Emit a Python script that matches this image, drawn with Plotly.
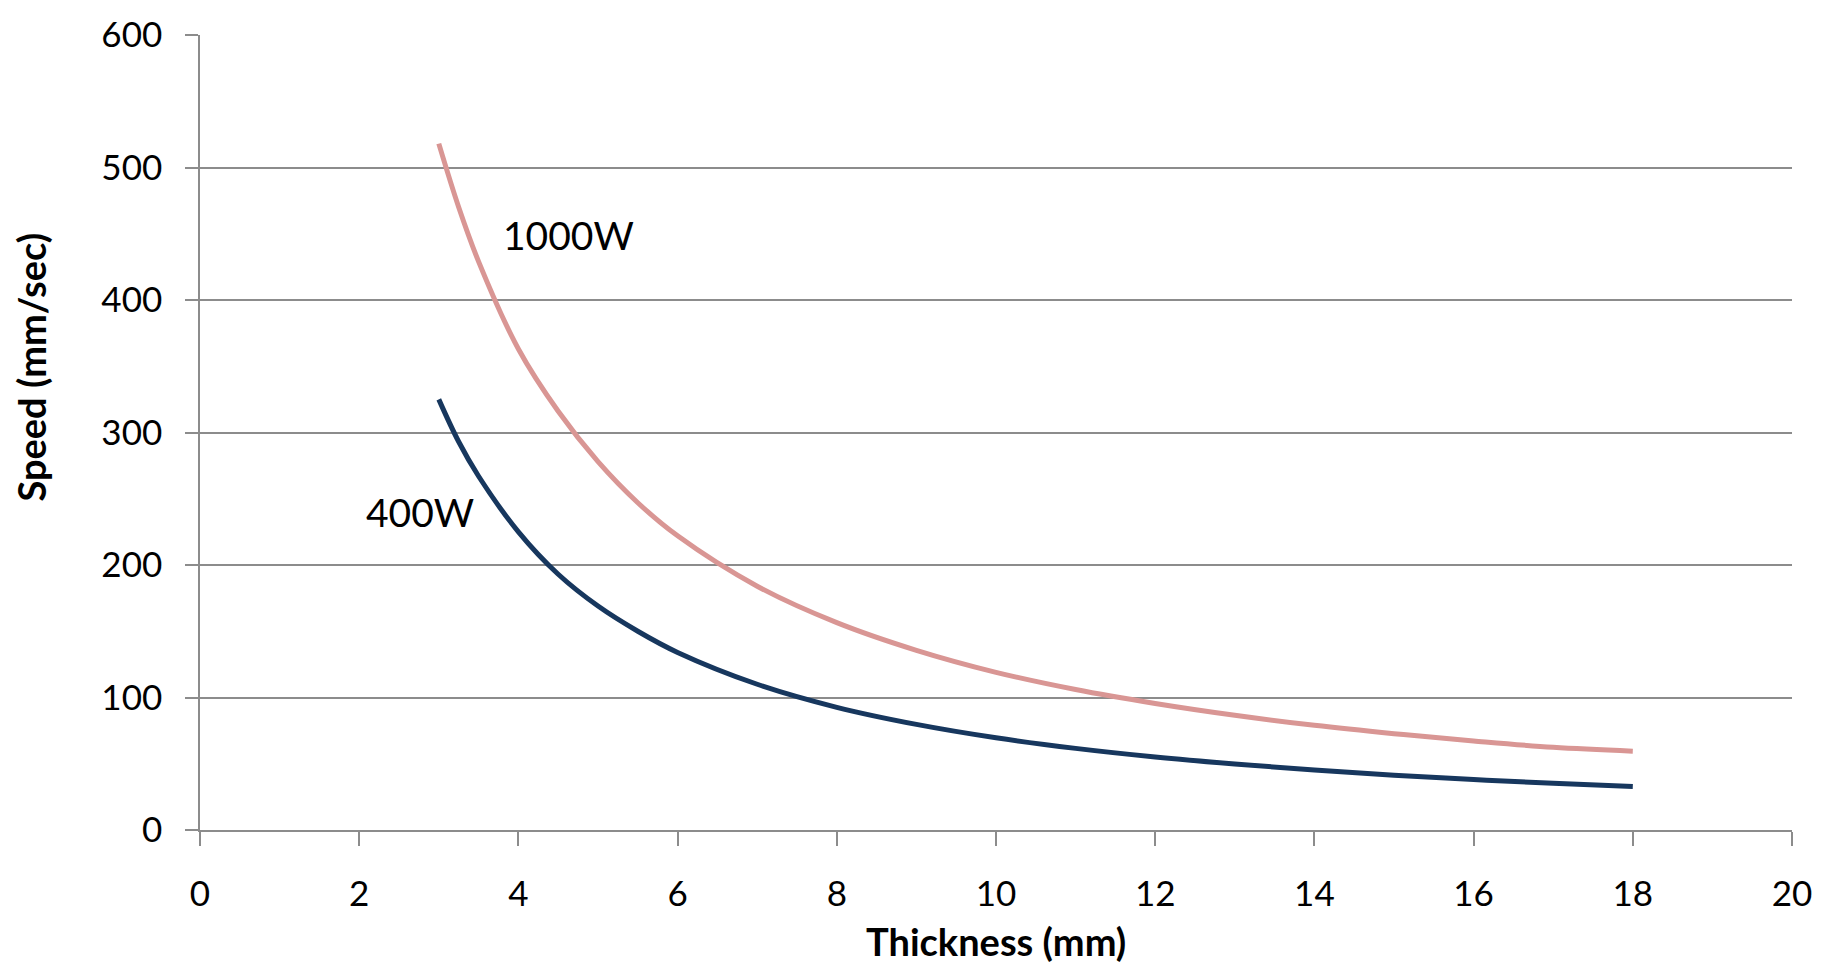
import plotly.graph_objects as go

# Data
thickness = [3, 3.25, 3.5, 4, 4.5, 5, 5.5, 6, 7, 8, 9, 10, 11, 12, 13, 14, 15, 16, 17, 18]
speed_1000w = [518, 470, 429, 363, 316, 278, 247, 222, 184, 156.5, 135.6, 119, 106, 95.5, 86.6, 79, 72.7, 67.2, 62.4, 59.5]
speed_400w = [325, 293, 267, 225, 193, 169, 150, 134, 110, 92.6, 79.7, 69.6, 61.6, 55.1, 49.8, 45.2, 41.4, 38.1, 35.3, 32.8]

x_ticks = [0, 2, 4, 6, 8, 10, 12, 14, 16, 18, 20]
y_ticks = [0, 100, 200, 300, 400, 500, 600]

series_labels = ["1000W", "400W"]
label_pos = [(3.78, 449), (2.06, 240)]

FONT = "Lato"
GRID = "#8C8C8C"

fig = go.Figure()
fig.add_trace(go.Scatter(x=thickness, y=speed_1000w, mode="lines", name=series_labels[0],
                         line=dict(color="#D99694", width=5, shape="spline")))
fig.add_trace(go.Scatter(x=thickness, y=speed_400w, mode="lines", name=series_labels[1],
                         line=dict(color="#17375E", width=5, shape="spline")))

for text, (lx, ly) in zip(series_labels, label_pos):
    fig.add_annotation(x=lx, y=ly, xref="x", yref="y", text=text, showarrow=False,
                       xanchor="left", yanchor="middle",
                       font=dict(family=FONT, size=39, color="#000000"))

fig.add_annotation(x=-0.106, y=0.582, xref="paper", yref="paper", text="<b>Speed (mm/sec)</b>",
                   textangle=-90, showarrow=False, xanchor="center", yanchor="middle",
                   font=dict(family=FONT, size=38, color="#000000"))
fig.add_annotation(x=0.5, y=-0.1395, xref="paper", yref="paper", text="<b>Thickness (mm)</b>",
                   showarrow=False, xanchor="center", yanchor="middle",
                   font=dict(family=FONT, size=38, color="#000000"))

fig.update_layout(
    width=1831, height=967,
    margin=dict(l=200, r=39, t=24, b=137),
    paper_bgcolor="white", plot_bgcolor="white",
    showlegend=False,
    font=dict(family=FONT, color="#000000"),
)
fig.update_xaxes(range=[0, 20], tickvals=x_ticks, ticktext=[str(v) for v in x_ticks],
                 showgrid=False, zeroline=False, showline=True, linecolor=GRID, linewidth=1.5,
                 ticks="outside", ticklen=14, tickcolor=GRID, tickwidth=1.5,
                 ticklabelstandoff=18, tickfont=dict(family=FONT, size=35, color="#000000"))
fig.update_yaxes(range=[0, 600], tickvals=y_ticks, ticktext=[str(v) for v in y_ticks],
                 showgrid=True, gridcolor=GRID, gridwidth=1.5, zeroline=False,
                 showline=True, linecolor=GRID, linewidth=1.5,
                 ticks="outside", ticklen=13, tickcolor=GRID, tickwidth=1.5,
                 ticklabelstandoff=16, tickfont=dict(family=FONT, size=35, color="#000000"))

fig.write_html("out.html", config={"displayModeBar": False},
               post_script="document.body.style.margin='0';document.body.style.overflow='hidden';")
